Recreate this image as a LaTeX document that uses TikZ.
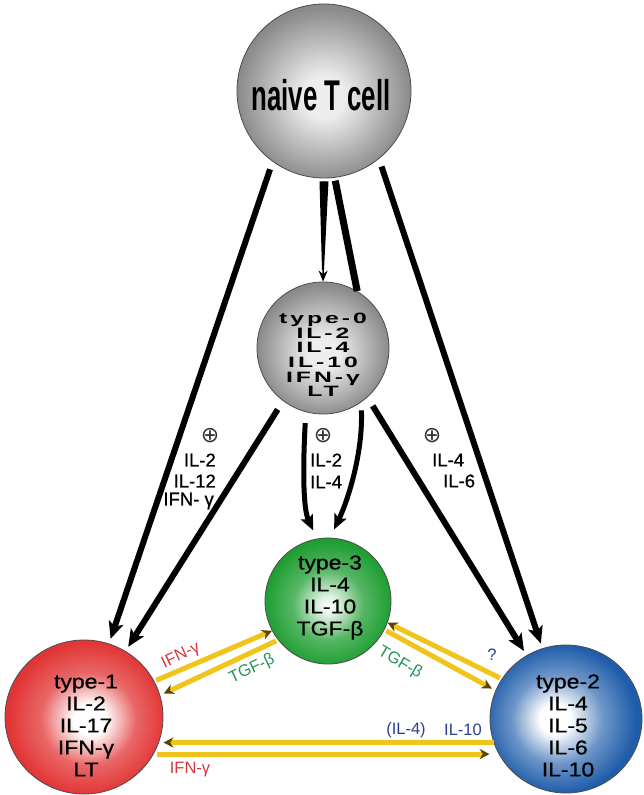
\documentclass[tikz,border=0pt]{standalone}
\usepackage{fontspec}
\setmainfont{Liberation Sans}
\newfontfamily\symfont{DejaVu Sans}
\newfontfamily\cellfont[FakeBold=0.6]{Liberation Sans}
\newfontfamily\widefont[LetterSpace=12]{Liberation Sans}
\usetikzlibrary{arrows.meta,calc,shapes.geometric}
\definecolor{g0}{HTML}{EDEDED}
\definecolor{g2}{HTML}{8A8A8A}
\definecolor{redc}{HTML}{E23434}
\definecolor{greenc}{HTML}{1E9E32}
\definecolor{bluec}{HTML}{1F5DAA}
\definecolor{yel}{HTML}{F0C419}
\definecolor{tipc}{HTML}{5A4500}
\definecolor{txtred}{HTML}{D7363C}
\definecolor{txtgreen}{HTML}{25965A}
\definecolor{txtblue}{HTML}{2A3F95}
\pgfdeclareradialshading{grayball}{\pgfpoint{0bp}{-2bp}}{color(0bp)=(g0); color(6bp)=(g0); color(25bp)=(g2); color(50bp)=(g2)}
\pgfdeclareradialshading{redball}{\pgfpoint{2bp}{-1bp}}{color(0bp)=(white); color(5bp)=(white); color(15bp)=(redc!75!white); color(25bp)=(redc); color(50bp)=(redc)}
\pgfdeclareradialshading{greenball}{\pgfpoint{0bp}{-2bp}}{color(0bp)=(white); color(4bp)=(greenc!15!white); color(14bp)=(greenc!75!white); color(25bp)=(greenc); color(50bp)=(greenc)}
\pgfdeclareradialshading{blueball}{\pgfpoint{-4bp}{0bp}}{color(0bp)=(white); color(5bp)=(white); color(15bp)=(bluec!65!white); color(25bp)=(bluec); color(50bp)=(bluec)}
\begin{document}
\begin{tikzpicture}[x=1pt,y=-1pt,
  ball/.style={draw=black!70,line width=0.8pt,inner sep=0pt},
  blk/.style={line width=6pt,-{Stealth[length=17pt,width=15pt,inset=4pt]}},
  blkcurve/.style={line width=5pt,-{Stealth[length=15pt,width=13pt,inset=3pt]}},
  yarr/.style={draw=yel,line width=5pt,-{Stealth[length=10pt,width=10pt,color=tipc]}},
  lab/.style={font=\cellfont\fontsize{18.5}{21}\selectfont,inner sep=0pt},
  ylab/.style={font=\fontsize{16.5}{18}\selectfont,inner sep=0pt},
  celltxt/.style={font=\cellfont\fontsize{20}{22}\selectfont,align=center,inner sep=0pt},
  plus/.style={font=\symfont\fontsize{22}{22}\selectfont,inner sep=0pt,text=black!80}]
\useasboundingbox (0,0) rectangle (644,795);
\fill[white] (0,0) rectangle (644,795);

% cells
\node[ball,circle,minimum size=174pt,shading=grayball] (naive) at (324,91) {};
\node[ball,circle,minimum size=132pt,shading=grayball] (t0) at (323,348) {};
\node[ball,circle,minimum size=126pt,shading=greenball] (t3) at (328,601) {};
\node[ball,ellipse,minimum width=158pt,minimum height=154pt,shading=redball] (t1) at (84,717) {};
\node[ball,ellipse,minimum width=152pt,minimum height=148pt,shading=blueball] (t2) at (566,719) {};

% cell texts
\node[inner sep=0pt] (ntxt) at (321,95) {\scalebox{0.6}[1]{\bfseries\fontsize{43}{43}\selectfont naive T cell}};
\node[inner sep=0pt] (t0txt) at (323,357) {\scalebox{1.65}[1]{\widefont\bfseries\fontsize{15}{14.6}\selectfont\begin{tabular}{@{}c@{}}type-0\\IL-2\\IL-4\\IL-10\\IFN-γ\\LT\end{tabular}}};
\node[celltxt] (t3txt) at (330,598) {\scalebox{1.15}[1]{\begin{tabular}{@{}c@{}}type-3\\IL-4\\IL-10\\TGF-β\end{tabular}}};
\node[celltxt] (t1txt) at (86,728) {\scalebox{1.15}[1]{\begin{tabular}{@{}c@{}}type-1\\IL-2\\IL-17\\IFN-γ\\LT\end{tabular}}};
\node[celltxt] (t2txt) at (568,728) {\scalebox{1.15}[1]{\begin{tabular}{@{}c@{}}type-2\\IL-4\\IL-5\\IL-6\\IL-10\end{tabular}}};

% black arrows from naive
\draw[blk,shorten <=8pt,shorten >=5pt] (naive.-126) -- (t1);
\draw[blk,shorten <=8pt,shorten >=5pt] (naive.-51) -- (t2);
\draw[line width=7pt,shorten <=3pt] (naive.-83) -- (t0.59);
\fill ($(naive.south)+(-4.5,3)$) -- ($(naive.south)+(4.5,3)$) -- ($(t0.north)+(1,-12)$) -- ($(t0.north)+(-1,-12)$) -- cycle;
\draw[line width=1.4pt,-{Stealth[length=11pt,width=9pt]},shorten <=3pt] (naive.south) -- (t0.north);

% black arrows from type-0
\draw[blk,shorten <=10pt,shorten >=5pt] (t0.-127) -- (t1);
\draw[blk,shorten <=10pt,shorten >=5pt] (t0.-48) -- (t2);
\draw[blkcurve,shorten <=11pt,shorten >=9pt] (t0.-105) .. controls +(-3,55) and +(-14,-30) .. (t3.100);
\draw[blkcurve,shorten <=8pt,shorten >=9pt] (t0.-55) .. controls +(2,50) and +(18,-38) .. (t3.88);

% labels on black arrows
\node[plus] (p1) at (210,436) {⊕};
\node[lab,anchor=east] (l1a) at (216,460) {IL-2};
\node[lab,anchor=east] (l1b) at (216,481) {IL-12};
\node[lab,anchor=east] (l1c) at (214,501) {IFN- γ};
\node[plus] (p2) at (323,436) {⊕};
\node[lab,anchor=west] (l2a) at (310,460) {IL-2};
\node[lab,anchor=west] (l2b) at (310,482) {IL-4};
\node[plus] (p3) at (432,436) {⊕};
\node[lab,anchor=west] (l3a) at (432,460) {IL-4};
\node[lab,anchor=west] (l3b) at (443,481) {IL-6};

% yellow arrows
\draw[yarr,shorten <=2pt] (t1.27) -- (t3.208);
\draw[yarr,shorten <=2pt,shorten >=4pt] (t3.218) -- (t1.16);
\draw[yarr,shorten <=2pt] (t2.148) -- (t3.-20);
\draw[yarr,shorten <=2pt,shorten >=4pt] (t3.-27) -- (t2.158);
\draw[yarr] (t2.-162) -- (t2.-162 -| t1.east);
\draw[yarr,shorten <=3pt] (t1.-28) -- (t1.-28 -| t2.west);

% yellow arrow labels
\node[ylab,text=txtred,rotate=25] (y1) at (181,656) {IFN-γ};
\node[ylab,text=txtgreen,rotate=25] (y2) at (252,669) {TGF-β};
\node[ylab,text=txtgreen,rotate=-30] (y3) at (400,663) {TGF-β};
\node[ylab,text=txtblue] (y4) at (492,655) {?};
\node[ylab,text=txtblue] (y5) at (406,730) {(IL-4)};
\node[ylab,text=txtblue] (y6) at (463,730) {IL-10};
\node[ylab,text=txtred] (y7) at (190,770) {IFN-γ};
\end{tikzpicture}
\end{document}
